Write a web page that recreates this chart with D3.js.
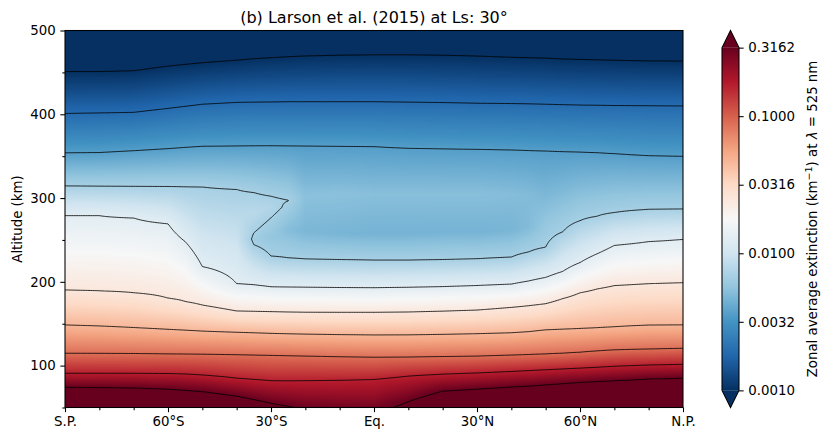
<!DOCTYPE html>
<html>
<head>
<meta charset="utf-8">
<title>Larson et al. (2015) at Ls: 30</title>
<script src="https://d3js.org/d3.v7.min.js"></script>
<style>
body { margin: 0; background: #fff; }
svg text { font-family: "DejaVu Sans", sans-serif; fill: #000; }
.axis text { font-size: 13.33px; }
.axis line { stroke: #000; stroke-width: 1.07; }
.axis path { display: none; }
</style>
</head>
<body>
<div id="vis_container"></div>
<script>

// ---- data (extinction in log10 km^-1) ----
var lats = [-90, -80, -70, -60, -55, -50, -40, -35, -30, -25, -20, -10, 0, 10, 20, 30, 40, 45, 50, 55, 60, 65, 70, 80, 90];

// contour levels, log10 of extinction (0.0010 ... 0.3162)
var contourLevels = [-3.000, -2.722, -2.444, -2.167, -1.889, -1.611, -1.333, -1.056, -0.778, -0.500];

// altitude (km) where each contour level is crossed, per latitude
var altLev0 = [451, 451, 452, 457.5, 459.5, 461.5, 464.5, 466.3, 467.5, 468.7, 469.6, 470.5, 471, 471, 470.5, 469.5, 468, 467.5, 467, 466, 465.5, 465, 464.5, 463.7, 463.5];
var altLev1 = [401, 401.6, 402.3, 407, 409.5, 412, 414.2, 414.5, 414.7, 415, 415, 415, 415, 414.5, 414, 413.2, 412.8, 412.5, 412, 411.5, 411, 410.8, 410.5, 410.2, 409.9];
var altLev2 = [354, 354.3, 356.5, 359, 360.5, 361.8, 362.2, 362.4, 362.5, 362.3, 362.1, 361.8, 361.5, 359.5, 358.8, 358.2, 357.5, 356.8, 356.2, 355.5, 354.9, 354.2, 353, 350.6, 349.8];
var altLev3 = [314.5, 314.2, 314, 313.8, 313.5, 313.2, 310.3, 306.6, 302.2, 228.6, 227.3, 226.5, 226, 226, 226.5, 227.5, 229.5, 235.6, 241.4, 259.7, 273, 278.3, 282.7, 286.5, 287];
var altLev4 = [279, 279, 276.2, 269.3, 248, 218.2, 197.8, 196.5, 194.1, 193.8, 193.6, 193.2, 193, 193.5, 194.3, 195.6, 197.3, 201, 205.3, 212.5, 223, 233.5, 243.5, 248, 250.7];
var altLev5 = [190.2, 189.2, 187, 180.5, 176.5, 172.3, 165.2, 164.8, 164.4, 164, 163.7, 163.6, 163.6, 164, 165, 166.3, 169.5, 171.5, 173.9, 180, 186.9, 191.5, 195.5, 197.8, 199];
var altLev6 = [148.5, 147.3, 145.4, 143.3, 142.3, 141.2, 139.8, 139.2, 138.5, 138, 137.6, 137, 136.6, 136.7, 137.3, 138.1, 139.2, 140.5, 142.7, 143.5, 144.3, 145.2, 146.3, 148.3, 148.5];
var altLev7 = [114.7, 114.6, 114.4, 114, 113.8, 113.6, 113, 112.6, 112.2, 111.8, 111.4, 110.6, 110, 110.2, 110.8, 111.3, 112.5, 113.2, 114, 114.8, 116, 117.5, 118.8, 119.8, 120.6];
var altLev8 = [90.8, 90.8, 90.8, 90.5, 90, 88.8, 85, 83.5, 82, 81.8, 82, 82.5, 83.5, 87.5, 89.8, 91.2, 93, 94, 95, 96, 97, 98, 99.2, 100.7, 101.5];
var altLev9 = [74.1, 73.8, 73.2, 71.8, 70.5, 68.9, 63.5, 59.5, 55, 51.5, null, null, null, 57, 69.5, 72, 74.5, 75.5, 77, 78.5, 80, 81, 82, 84, 85];

// values at the bottom (50 km) and top (500 km) of each latitude column
var logExtBottom = [-0.15, -0.15, -0.16, -0.2, -0.22, -0.25, -0.35, -0.4, -0.46, -0.49, -0.52, -0.54, -0.55, -0.46, -0.3, -0.25, -0.22, -0.2, -0.2, -0.2, -0.18, -0.18, -0.17, -0.16, -0.15];
var logExtTop = [-3.27, -3.27, -3.26, -3.22, -3.2, -3.19, -3.17, -3.16, -3.16, -3.15, -3.15, -3.14, -3.14, -3.14, -3.14, -3.15, -3.16, -3.16, -3.17, -3.17, -3.18, -3.18, -3.18, -3.19, -3.19];

// extra points: [lat, altitude, log10 extinction] (tongue near 30S and the blue blob)
var extraKnots = [
    [-35, 244.3, -2.167], [-35, 251, -2.19], [-35, 258.4, -2.167], [-35, 282, -2.09],
    [-30, 230.7, -2.167], [-30, 254, -2.24], [-30, 276.4, -2.167], [-30, 289, -2.12],
    [-25, 262, -2.29], [-25, 297, -2.165],
    [-20, 260, -2.32], [-20, 303, -2.27],
    [-10, 258, -2.33], [-10, 305, -2.27],
    [0, 258, -2.34], [0, 305, -2.28],
    [10, 258, -2.34], [10, 305, -2.28],
    [20, 260, -2.34], [20, 305, -2.28],
    [30, 260, -2.34], [30, 305, -2.28],
    [40, 262, -2.33], [40, 305, -2.29],
    [45, 265, -2.3], [45, 305, -2.3]
];

var latTicks = [-90, -60, -30, 0, 30, 60, 90];
var latTickLabels = ["S.P.", "60°S", "30°S", "Eq.", "30°N", "60°N", "N.P."];
var latMinorTicks = [-80, -70, -50, -40, -20, -10, 10, 20, 40, 50, 70, 80];
var altTicks = [100, 200, 300, 400, 500];
var altMinorTicks = [50, 150, 250, 350, 450];
var cbTicks = [0.001, 0.0031623, 0.01, 0.031623, 0.1, 0.31623];

// RdBu_r
var cmapColors = ["#053061", "#2166ac", "#4393c3", "#92c5de", "#d1e5f0", "#f7f7f7",
                  "#fddbc7", "#f4a582", "#d6604d", "#b2182b", "#67001f"];

var altLevels = [altLev0, altLev1, altLev2, altLev3, altLev4, altLev5, altLev6, altLev7, altLev8, altLev9];

// ---- layout ----
var width = 830, height = 441;
var plotLeft = 65, plotRight = 683, plotTop = 30.5, plotBottom = 407.5;

var svg = d3.select("#vis_container")
    .append("svg")
    .attr("width", width)
    .attr("height", height);

var x = d3.scaleLinear().domain([-90, 90]).range([plotLeft, plotRight]);
var y = d3.scaleLinear().domain([50, 500]).range([plotBottom, plotTop]);

var cmap = d3.scaleLinear()
    .domain(cmapColors.map(function(d, i) { return -3 + i * 0.25; }))
    .range(cmapColors)
    .clamp(true);

// one sorted list of (altitude, value) knots per latitude column
var profiles = lats.map(function(lat, ci) {
    var k = [[50, logExtBottom[ci]], [500, logExtTop[ci]]];
    altLevels.forEach(function(arr, li) {
        if (arr[ci] != null) k.push([arr[ci], contourLevels[li]]);
    });
    extraKnots.forEach(function(e) {
        if (e[0] === lat) k.push([e[1], e[2]]);
    });
    k.sort(function(a, b) { return a[0] - b[0]; });
    return k;
});

function evalProfile(k, a) {
    if (a <= k[0][0]) return k[0][1];
    for (var i = 1; i < k.length; i++) {
        if (a <= k[i][0]) {
            var t = (a - k[i - 1][0]) / (k[i][0] - k[i - 1][0]);
            return k[i - 1][1] + t * (k[i][1] - k[i - 1][1]);
        }
    }
    return k[k.length - 1][1];
}

function interpLat(colVals, lat) {
    lat = Math.max(-90, Math.min(90, lat));
    var i = d3.bisectRight(lats, lat) - 1;
    if (i >= lats.length - 1) i = lats.length - 2;
    if (i < 0) i = 0;
    var t = (lat - lats[i]) / (lats[i + 1] - lats[i]);
    return colVals[i] + t * (colVals[i + 1] - colVals[i]);
}

// ---- shaded field ----
var W = plotRight - plotLeft, H = plotBottom - plotTop;
var canvas = document.createElement("canvas");
canvas.width = W;
canvas.height = H;
var ctx = canvas.getContext("2d");
var img = ctx.createImageData(W, H);

var lut = d3.range(1024).map(function(i) { return d3.rgb(cmap(-3 + 2.5 * i / 1023)); });
for (var py = 0; py < H; py++) {
    var a = y.invert(plotTop + py + 0.5);
    var colVals = profiles.map(function(k) { return evalProfile(k, a); });
    for (var px = 0; px < W; px++) {
        var v = interpLat(colVals, x.invert(plotLeft + px + 0.5));
        var li = Math.round((v + 3) / 2.5 * 1023);
        li = Math.max(0, Math.min(1023, li));
        var c = lut[li], o = (py * W + px) * 4;
        img.data[o] = c.r; img.data[o + 1] = c.g; img.data[o + 2] = c.b; img.data[o + 3] = 255;
    }
}
ctx.putImageData(img, 0, 0);

svg.append("defs").append("clipPath")
    .attr("id", "plotclip")
    .append("rect")
    .attr("x", plotLeft).attr("y", plotTop)
    .attr("width", W).attr("height", H);

svg.append("image")
    .attr("x", plotLeft)
    .attr("y", plotTop)
    .attr("width", W)
    .attr("height", H)
    .attr("preserveAspectRatio", "none")
    .attr("href", canvas.toDataURL());

// ---- contour lines ----
var gLat0 = -91, gStep = 0.5, nx = 365;
var gAlt0 = 49, ny = 453;
var grid = new Float64Array(nx * ny);
for (var j = 0; j < ny; j++) {
    var ga = gAlt0 + j;
    var cv = profiles.map(function(k) { return evalProfile(k, ga); });
    for (var i = 0; i < nx; i++) {
        grid[j * nx + i] = interpLat(cv, gLat0 + i * gStep);
    }
}

var contours = d3.contours()
    .size([nx, ny])
    .thresholds(contourLevels)(grid);

var proj = d3.geoTransform({
    point: function(gx, gy) {
        this.stream.point(x(gLat0 + (gx - 0.5) * gStep), y(gAlt0 + (gy - 0.5)));
    }
});

svg.append("g")
    .attr("clip-path", "url(#plotclip)")
    .selectAll("path")
    .data(contours)
    .enter()
    .append("path")
    .attr("d", d3.geoPath(proj))
    .style("fill", "none")
    .style("stroke", "#000")
    .style("stroke-width", 0.9)
    .style("stroke-opacity", 0.9);

// ---- axes ----
svg.append("g")
    .attr("class", "axis")
    .attr("transform", "translate(0," + plotBottom + ")")
    .call(d3.axisBottom(x).tickValues(latTicks)
        .tickFormat(function(d, i) { return latTickLabels[i]; })
        .tickSize(4.67).tickPadding(4.67).tickSizeOuter(0));

svg.append("g")
    .attr("class", "axis")
    .attr("transform", "translate(0," + plotBottom + ")")
    .call(d3.axisBottom(x).tickValues(latMinorTicks).tickFormat("")
        .tickSize(2.67).tickSizeOuter(0));

svg.append("g")
    .attr("class", "axis")
    .attr("transform", "translate(" + plotLeft + ",0)")
    .call(d3.axisLeft(y).tickValues(altTicks).tickFormat(d3.format("d"))
        .tickSize(4.67).tickPadding(4.67).tickSizeOuter(0));

svg.append("g")
    .attr("class", "axis")
    .attr("transform", "translate(" + plotLeft + ",0)")
    .call(d3.axisLeft(y).tickValues(altMinorTicks).tickFormat("")
        .tickSize(2.67).tickSizeOuter(0));

svg.append("rect")
    .attr("x", plotLeft).attr("y", plotTop)
    .attr("width", W).attr("height", H)
    .style("fill", "none")
    .style("stroke", "#000")
    .style("stroke-width", 1.07);

svg.append("text")
    .attr("transform", "translate(21.5," + ((plotTop + plotBottom) / 2) + ") rotate(-90)")
    .style("text-anchor", "middle")
    .style("font-size", "13.33px")
    .text("Altitude (km)");

svg.append("text")
    .attr("x", (plotLeft + plotRight) / 2)
    .attr("y", 22.5)
    .style("text-anchor", "middle")
    .style("font-size", "16px")
    .text("(b) Larson et al. (2015) at Ls: 30°");

// ---- colorbar ----
var cbX = 722, cbW = 17;
var cbExt = (plotBottom - plotTop) / 1.1 * 0.05;
var cbY = d3.scaleLog()
    .domain([0.001, Math.pow(10, -0.5)])
    .range([plotBottom - cbExt, plotTop + cbExt]);

var grad = svg.select("defs").append("linearGradient")
    .attr("id", "cbgrad")
    .attr("x1", 0).attr("y1", 1).attr("x2", 0).attr("y2", 0);
grad.selectAll("stop")
    .data(cmapColors)
    .enter()
    .append("stop")
    .attr("offset", function(d, i) { return i / (cmapColors.length - 1); })
    .attr("stop-color", function(d) { return d; });

svg.append("rect")
    .attr("x", cbX).attr("y", cbY(Math.pow(10, -0.5)))
    .attr("width", cbW)
    .attr("height", cbY(0.001) - cbY(Math.pow(10, -0.5)))
    .style("fill", "url(#cbgrad)");

svg.append("path")
    .attr("d", "M" + cbX + "," + (plotTop + cbExt) + "L" + (cbX + cbW / 2) + "," + plotTop +
        "L" + (cbX + cbW) + "," + (plotTop + cbExt) + "Z")
    .style("fill", cmapColors[cmapColors.length - 1]);

svg.append("path")
    .attr("d", "M" + cbX + "," + (plotBottom - cbExt) + "L" + (cbX + cbW / 2) + "," + plotBottom +
        "L" + (cbX + cbW) + "," + (plotBottom - cbExt) + "Z")
    .style("fill", cmapColors[0]);

svg.append("path")
    .attr("d", "M" + cbX + "," + (plotTop + cbExt) + "L" + (cbX + cbW / 2) + "," + plotTop +
        "L" + (cbX + cbW) + "," + (plotTop + cbExt) + "L" + (cbX + cbW) + "," + (plotBottom - cbExt) +
        "L" + (cbX + cbW / 2) + "," + plotBottom + "L" + cbX + "," + (plotBottom - cbExt) + "Z")
    .style("fill", "none")
    .style("stroke", "#000")
    .style("stroke-width", 1.07);

svg.append("g")
    .attr("class", "axis")
    .attr("transform", "translate(" + (cbX + cbW) + ",0)")
    .call(d3.axisRight(cbY).tickValues(cbTicks).tickFormat(d3.format(".4f"))
        .tickSize(4.67).tickPadding(4.67).tickSizeOuter(0));

var cbLabel = svg.append("text")
    .attr("transform", "translate(816.5," + ((plotTop + plotBottom) / 2) + ") rotate(-90)")
    .style("text-anchor", "middle")
    .style("font-size", "13.33px");
cbLabel.append("tspan").text("Zonal average extinction (km");
cbLabel.append("tspan").attr("dy", -5).style("font-size", "9.5px").text("\u22121");
cbLabel.append("tspan").attr("dy", 5).text(") at ");
cbLabel.append("tspan").style("font-style", "italic").text("\u03bb");
cbLabel.append("tspan").text(" = 525 nm");

</script>
</body>
</html>
